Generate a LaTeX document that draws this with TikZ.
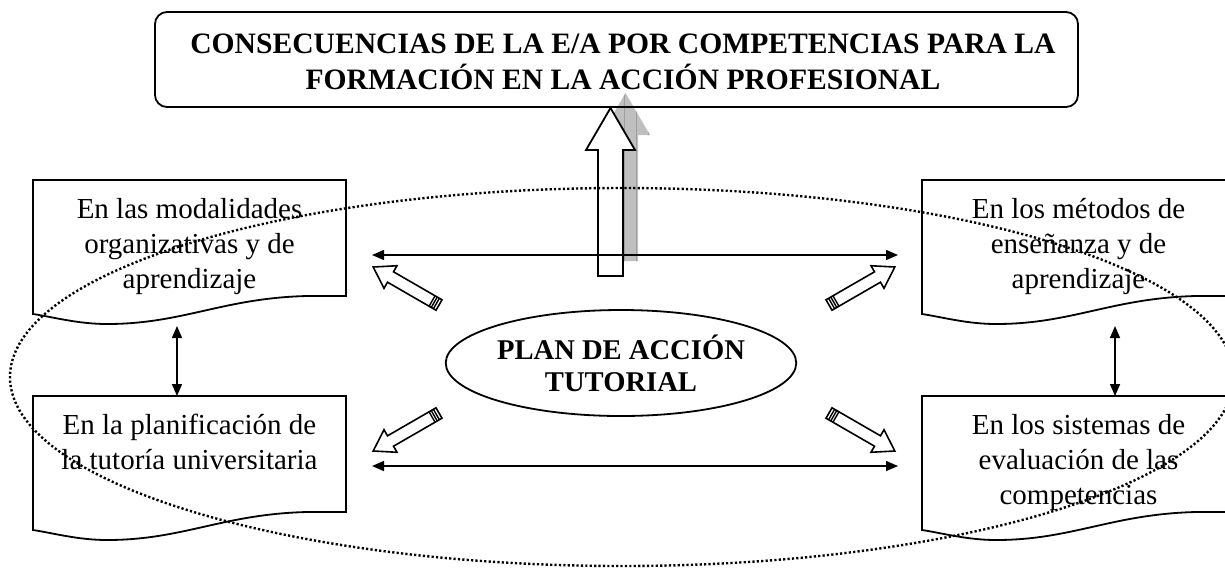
\documentclass[tikz,border=0pt]{standalone}
\usepackage{fontspec}
\setmainfont{Liberation Serif}
\usetikzlibrary{arrows.meta,shapes.geometric}
\newcommand\mydocshape{\draw[docbox] (0,0) -- (313,0) -- (313,116) -- (274,116) .. controls (190,118) and (150,144) .. (74,144) .. controls (45,144) and (20,137) .. (0,134) -- cycle;}
\newcommand\myblockarrow{%
  \draw[blkarrow] (0,-6) -- (56,-6) -- (56,-13) -- (76,0) -- (56,13) -- (56,6) -- (0,6) -- cycle;
  \draw[line width=0.7pt] (3,-6) -- (3,6) (5.5,-6) -- (5.5,6) (8,-6) -- (8,6);}
\begin{document}
\begin{tikzpicture}[x=0.5pt,y=-0.5pt,
  docbox/.style={draw=black,line width=0.9pt,fill=white},
  bodytxt/.style={font=\fontsize{14.5pt}{17.5pt}\selectfont,align=center,inner sep=0pt,anchor=north},
  dblarrow/.style={{Triangle[length=6pt,width=5pt]}-{Triangle[length=6pt,width=5pt]},line width=0.75pt},
  blkarrow/.style={draw=black,line width=0.8pt,fill=white,line join=miter},
  dotline/.style={line width=1.2pt,dash pattern=on 1.1pt off 1.1pt}]
\useasboundingbox (0,0) rectangle (1225,569);
\clip (0,0) rectangle (1225,569);
% document shapes
\begin{scope}[shift={(33,180)}]\mydocshape\end{scope}
\begin{scope}[shift={(33,396)}]\mydocshape\end{scope}
\begin{scope}[shift={(922,180)}]\mydocshape\end{scope}
\begin{scope}[shift={(922,396)}]\mydocshape\end{scope}
% shadow of the big arrow
\begin{scope}
  \clip (613,261) -- (613,135) -- (601,135) -- (625.5,93) -- (650,135) -- (638,135) -- (638,261) -- cycle;
  \fill[black!25] (590,80) rectangle (660,270);
  \draw[black!38,line width=0.3pt] (590,81) grid[xstep=12,ystep=12] (660,270);
\end{scope}
% big arrow
\draw[line width=0.9pt,fill=white,line join=miter] (598,276) -- (598,150) -- (586,150) -- (610.5,108) -- (635,150) -- (623,150) -- (623,276) -- cycle;
% top box
\node[draw,line width=0.9pt,rounded corners=6pt,minimum width=461.5pt,minimum height=47.5pt,inner sep=0pt] (top) at (616.5,59.5) {};
\node[font=\fontsize{14.8pt}{18pt}\selectfont\bfseries,align=center,inner sep=0pt] (toptxt) at (623,62) {CONSECUENCIAS DE LA E/A POR COMPETENCIAS PARA LA\\FORMACIÓN EN LA ACCIÓN PROFESIONAL};
% central ellipse
\node[ellipse,draw,line width=0.9pt,fill=white,minimum width=162pt,minimum height=53pt,inner sep=0pt,font=\fontsize{14.3pt}{16pt}\selectfont\bfseries,align=center] (pat) at (621,363) {PLAN DE ACCIÓN\\TUTORIAL};
% texts
\node[bodytxt] (t1) at (189.5,198) {En las modalidades\\organizativas y de\\aprendizaje};
\node[bodytxt] (t2) at (189.5,414) {En la planificación de\\la tutoría universitaria};
\node[bodytxt] (t3) at (1078.5,198) {En los métodos de\\enseñanza y de\\aprendizaje};
\node[bodytxt] (t4) at (1078.5,414) {En los sistemas de\\evaluación de las\\competencias};
% dotted ellipse
\draw[dotline] (622,377) ellipse [x radius=612, y radius=189];
% double arrows
\coordinate (hA) at (372,255); \coordinate (hB) at (898,255);
\coordinate (hC) at (372,466); \coordinate (hD) at (898,466);
\coordinate (vA) at (177,326); \coordinate (vB) at (177,396);
\coordinate (vC) at (1115,326); \coordinate (vD) at (1115,396);
\draw[dblarrow] (hA) -- (hB);
\draw[dblarrow] (hC) -- (hD);
\draw[dblarrow] (vA) -- (vB);
\draw[dblarrow] (vC) -- (vD);
% block arrows
\coordinate (ulT) at (439,305); \coordinate (urT) at (829,305);
\coordinate (llT) at (439,413); \coordinate (lrT) at (829,413);
\begin{scope}[shift={(ulT)},rotate=150]\myblockarrow\end{scope}
\begin{scope}[shift={(urT)},rotate=30]\myblockarrow\end{scope}
\begin{scope}[shift={(llT)},rotate=210]\myblockarrow\end{scope}
\begin{scope}[shift={(lrT)},rotate=-30]\myblockarrow\end{scope}
\end{tikzpicture}
\end{document}
